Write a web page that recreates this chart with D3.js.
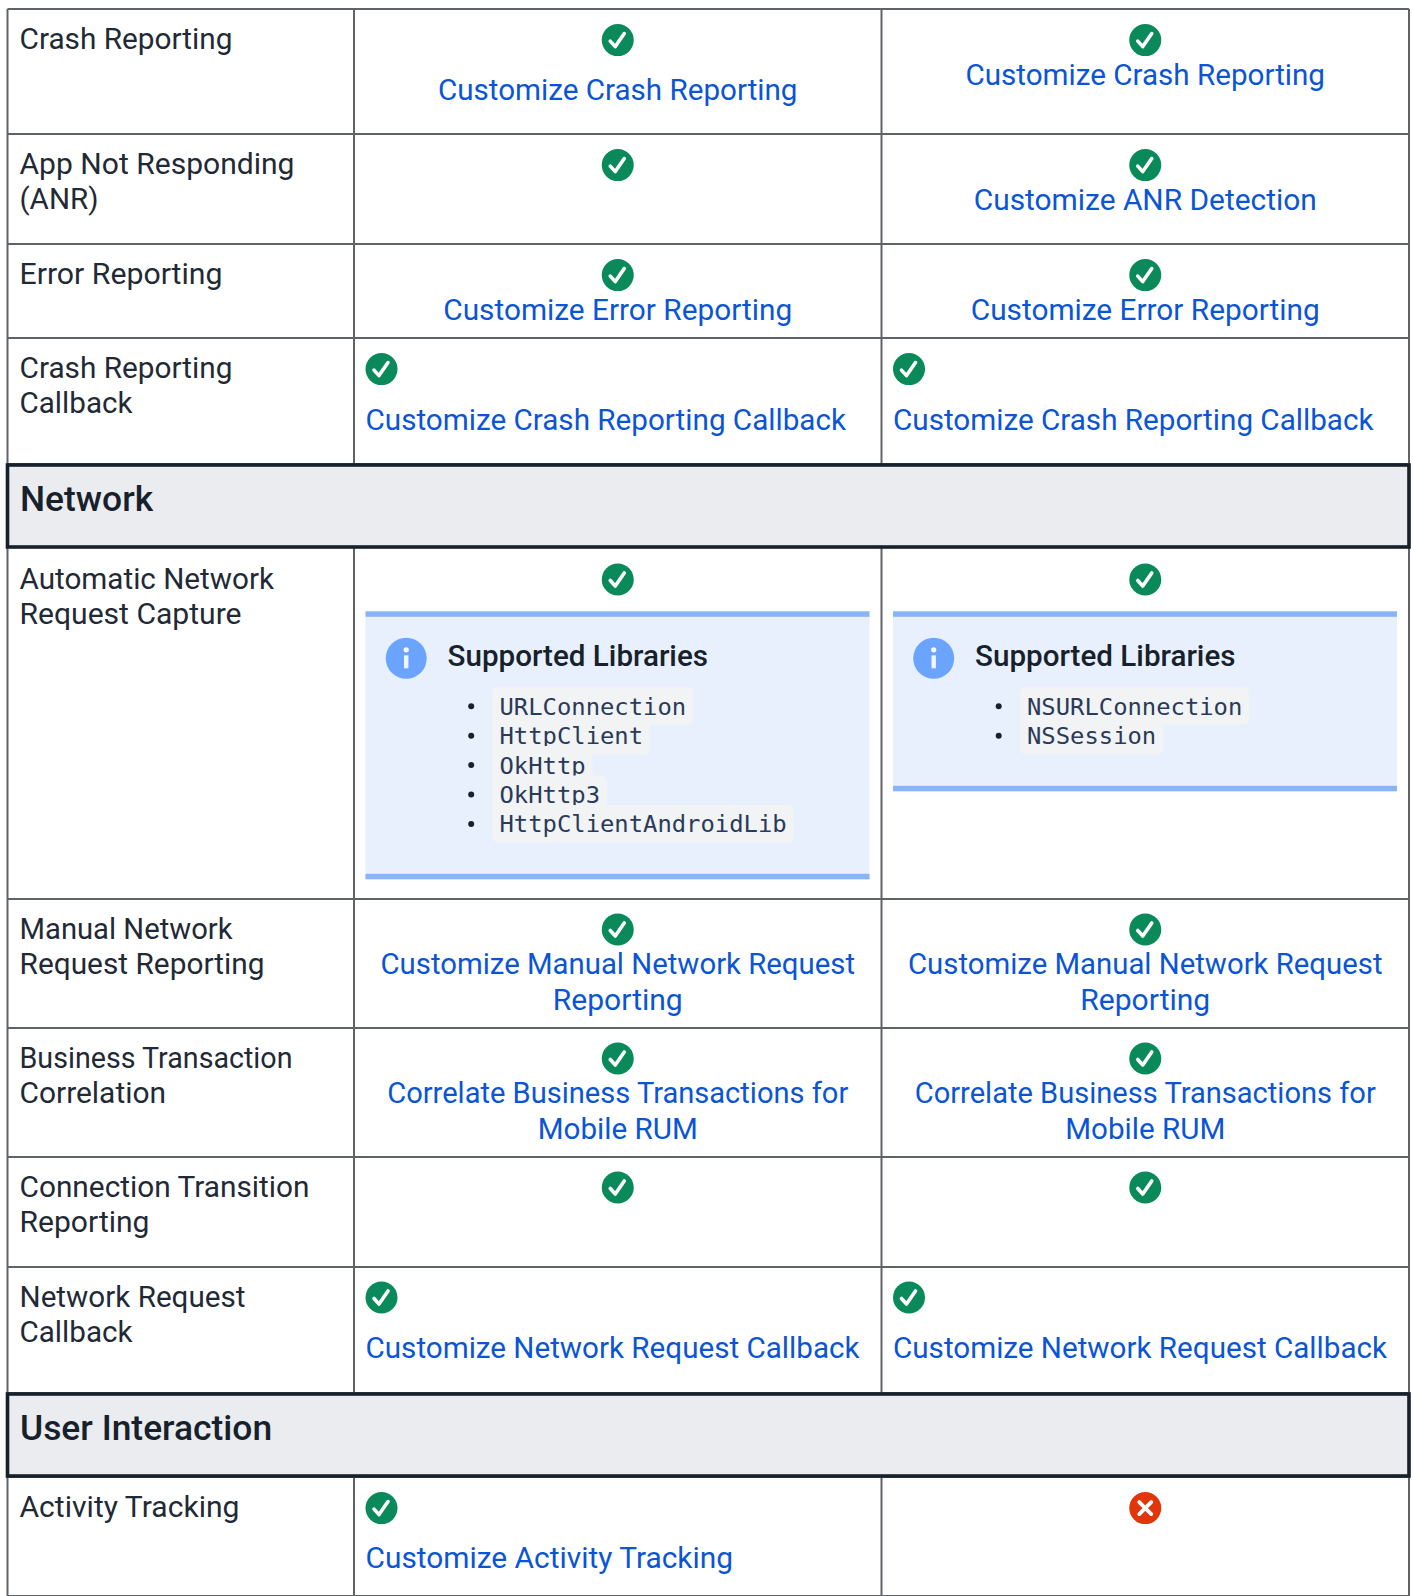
<!DOCTYPE html>
<html><head><meta charset="utf-8">
<script src="https://cdn.jsdelivr.net/npm/d3@7/dist/d3.min.js"></script>
<style>html,body{margin:0;background:#fff}svg{display:block}</style></head>
<body><div id="c"></div>
<script>
// Data
const rowLabels = [["Crash Reporting"],["App Not Responding","(ANR)"],["Error Reporting"],["Crash Reporting","Callback"],
  ["Automatic Network","Request Capture"],["Manual Network","Request Reporting"],["Business Transaction","Correlation"],
  ["Connection Transition","Reporting"],["Network Request","Callback"],["Activity Tracking"]];
const androidLinks = [["Customize Crash Reporting"],[],["Customize Error Reporting"],["Customize Crash Reporting Callback"],[],
  ["Customize Manual Network Request","Reporting"],["Correlate Business Transactions for","Mobile RUM"],[],["Customize Network Request Callback"],["Customize Activity Tracking"]];
const iosLinks = [["Customize Crash Reporting"],["Customize ANR Detection"],["Customize Error Reporting"],["Customize Crash Reporting Callback"],[],
  ["Customize Manual Network Request","Reporting"],["Correlate Business Transactions for","Mobile RUM"],[],["Customize Network Request Callback"],[]];
const androidStatus = [1,1,1,1,1,1,1,1,1,1];
const iosStatus = [1,1,1,1,1,1,1,1,1,0];
const leftAligned = [[0,0],[0,0],[0,0],[1,1],[0,0],[0,0],[0,0],[0,0],[1,1],[1,0]];
const looseLink = [[1,0],[0,0],[0,0],[1,1],[0,0],[0,0],[0,0],[0,0],[1,1],[1,0]];
const sectionNames = ["Network","User Interaction"];
const boxTitle = "Supported Libraries";
const androidLibs = ["URLConnection","HttpClient","OkHttp","OkHttp3","HttpClientAndroidLib"];
const iosLibs = ["NSURLConnection","NSSession"];

// Layout
const W=1413,H=1596;
const rowTops=[9,134,244,338,547,899,1028,1157,1267,1477];
const rowBottoms=[134,244,338,464,899,1028,1157,1267,1393,1596];
const labelShift=[0,0,0,0,2,0,0,0,0,0];
const iconShift=[0.6,0.6,0.6,0.6,2,0,0,0,0,0.6];
const linkShift=[0.4,0.4,0.4,1.2,0,-1,-1,0,0.3,0.4];
const sectionBands=[[465,547],[1394,1476]];
const colX=[7.5,354,881.5,1409];
const sans="Roboto, sans-serif";
const ink="#1f2a36",linkC="#0a55d6",green="#0a8a5a",red="#e0360a",grid="#5f6368";
const bodySize=29.4;
// Rendered text widths as seen in the page, so the substitute font occupies the same run length
const runWidths=new Map([
 ["Crash Reporting",213],["App Not Responding",275],["(ANR)",79],["Error Reporting",203],["Callback",113],
 ["Automatic Network",254.5],["Request Capture",222],["Manual Network",213],["Request Reporting",245],
 ["Business Transaction",273],["Correlation",146.5],["Connection Transition",290],["Reporting",130],
 ["Network Request",226],["Activity Tracking",220],
 ["Customize Crash Reporting",359.5],["Customize ANR Detection",343],["Customize Error Reporting",349],
 ["Customize Crash Reporting Callback",480.5],["Customize Manual Network Request",474.5],
 ["Correlate Business Transactions for",461],["Mobile RUM",160],
 ["Customize Network Request Callback",494],["Customize Activity Tracking",367.5]]);
const fit=sel=>sel.attr("textLength",d=>runWidths.get(d)).attr("lengthAdjust","spacingAndGlyphs");

const svg=d3.select("#c").append("svg").attr("width",W).attr("height",H);
const cols=[{k:"android",links:androidLinks,st:androidStatus,i:0},{k:"ios",links:iosLinks,st:iosStatus,i:1}];

// grid
const gg=svg.append("g").attr("stroke",grid).attr("stroke-width",2);
gg.selectAll("line.h").data(rowTops.concat(rowBottoms)).join("line").attr("x1",colX[0]).attr("x2",colX[3]).attr("y1",d=>d).attr("y2",d=>d);
rowTops.forEach((t,i)=>{ colX.forEach(cx=>gg.append("line").attr("x1",cx).attr("x2",cx).attr("y1",t).attr("y2",rowBottoms[i])); });

// sections
const sec=svg.selectAll("g.sec").data(sectionNames).join("g");
sec.append("rect").attr("x",7.5).attr("width",1401.5).attr("y",(d,i)=>sectionBands[i][0]).attr("height",(d,i)=>sectionBands[i][1]-sectionBands[i][0])
  .attr("fill","#ebecf0").attr("stroke","#17212b").attr("stroke-width",3.6);
sec.append("text").attr("x",20).attr("y",(d,i)=>sectionBands[i][0]+45.5).text(d=>d)
  .attr("font-family",sans).attr("font-weight",500).attr("font-size",35.4).attr("fill","#17212b");

// labels
rowLabels.forEach((ls,i)=>{
  svg.append("g").selectAll("text").data(ls).join("text").attr("x",19.5).attr("y",(d,j)=>rowTops[i]+labelShift[i]+39.6+j*35).text(d=>d)
    .attr("font-family",sans).attr("font-size",bodySize).attr("fill",ink).call(fit);
});

function icon(g,cx,cy,ok){
  const n=g.append("g").attr("transform",`translate(${cx},${cy})`);
  n.append("circle").attr("r",16).attr("fill",ok?green:red);
  if(ok) n.append("path").attr("d","M-7.5,1 L-2.5,6.5 L6.5,-6.5").attr("fill","none").attr("stroke","#fff").attr("stroke-width",3.6).attr("stroke-linecap","round").attr("stroke-linejoin","round");
  else n.append("path").attr("d","M-6,-6 L6,6 M6,-6 L-6,6").attr("fill","none").attr("stroke","#fff").attr("stroke-width",3.8).attr("stroke-linecap","round");
}
cols.forEach(c=>{
  const L=colX[c.i+1],R=colX[c.i+2],mid=(L+R)/2;
  rowLabels.forEach((_,i)=>{
    const left=leftAligned[i][c.i];
    const g=svg.append("g");
    icon(g,left?L+27.5:mid,rowTops[i]+iconShift[i]+30.5,c.st[i]);
    g.selectAll("text").data(c.links[i]).join("text")
      .attr("x",left?L+11.5:mid).attr("text-anchor",left?"start":"middle")
      .attr("y",(d,j)=>rowTops[i]+linkShift[i]+0.8+(looseLink[i][c.i]?90:75)+j*36).text(d=>d)
      .attr("font-family",sans).attr("font-size",bodySize).attr("fill",linkC).call(fit);
  });
});

// info boxes
[[androidLibs,0,268],[iosLibs,1,180]].forEach(([libs,ci,h])=>{
  const bx=colX[ci+1]+11.5,by=611.3,bw=504;
  const g=svg.append("g");
  g.append("rect").attr("x",bx).attr("y",by).attr("width",bw).attr("height",h).attr("fill","#e8f0fe");
  g.append("rect").attr("x",bx).attr("y",by).attr("width",bw).attr("height",5.5).attr("fill","#8ab4f8");
  g.append("rect").attr("x",bx).attr("y",by+h-5.5).attr("width",bw).attr("height",5.5).attr("fill","#8ab4f8");
  const ic=g.append("g").attr("transform",`translate(${bx+40.7},${by+47})`);
  ic.append("circle").attr("r",20.5).attr("fill","#6ba4ff");
  ic.append("rect").attr("x",-2.2).attr("y",-3).attr("width",4.4).attr("height",13).attr("fill","#fff").attr("opacity",.9);
  ic.append("circle").attr("cy",-8.5).attr("r",2.6).attr("fill","#fff");
  g.append("text").attr("x",bx+82).attr("y",by+55).text(boxTitle)
    .attr("font-family",sans).attr("font-weight",500).attr("font-size",29.6).attr("fill","#17212b");
  const it=g.selectAll("g.it").data(libs).join("g");
  const yy=j=>by+95+j*29.4;
  it.append("circle").attr("cx",bx+105.7).attr("cy",(d,j)=>yy(j)).attr("r",3).attr("fill","#17212b");
  it.append("rect").attr("class","bg").attr("x",bx+127).attr("y",(d,j)=>yy(j)-19).attr("height",37.5).attr("rx",5).attr("fill","#f1f3f4");
  it.append("text").attr("x",bx+134).attr("y",(d,j)=>yy(j)+8.5).text(d=>d)
    .attr("font-family","'DejaVu Sans Mono',monospace").attr("font-size",23.85).attr("fill","#2a3a5a");
  it.each(function(){const n=d3.select(this);n.select("rect.bg").attr("width",n.select("text").node().getComputedTextLength()+14);});
});
</script></body></html>
